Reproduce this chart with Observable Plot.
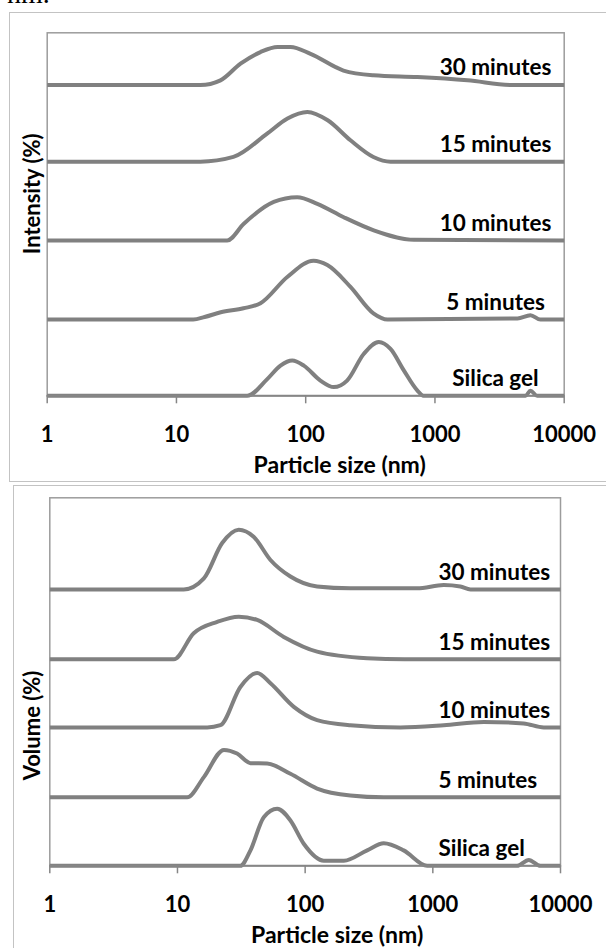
<!DOCTYPE html>
<html>
<head>
<meta charset="utf-8">
<script src="https://cdn.jsdelivr.net/npm/d3@7"></script>
<script src="https://cdn.jsdelivr.net/npm/@observablehq/plot@0.6"></script>
<style>
html, body { margin: 0; padding: 0; background: #fff; }
#page { position: relative; width: 606px; height: 948px; overflow: hidden; background: #fff; }
.panel { position: absolute; left: 0; }
.box { position: absolute; border: 1px solid #c3c3c3; box-sizing: border-box; pointer-events: none; }
#box1 { left: 9px; top: 12px; width: 620px; height: 470px; }
#box2 { left: 13px; top: 485px; width: 620px; height: 500px; }
#nm { position: absolute; left: 7px; top: -20px; font: 28px/28px "Liberation Serif", serif; color: #000; white-space: nowrap; }
</style>
</head>
<body>
<div id="page">
  <div id="nm">nm.</div>
  <div id="top" class="panel" style="top:0px"></div>
  <div id="bottom" class="panel" style="top:484px"></div>
  <div id="box1" class="box"></div>
  <div id="box2" class="box"></div>
</div>
<script>
// ---- data ----
const sizeTicks = [1, 10, 100, 1000, 10000];
const seriesNames = ["30 minutes", "15 minutes", "10 minutes", "5 minutes", "Silica gel"];

// Intensity distributions: [particle size (nm), intensity]
const intensity30 = [[1,0],[15.3,0],[21.9,1.3],[31.3,5.9],[44.7,9.1],[60.5,10.5],[76.3,10.5],[109,8.6],[196,4.0],[334,2.7],[732,2.2],[1784,1.3],[4050,0],[10000,0]];
const intensity15 = [[1,0],[15.3,0],[27.6,1.3],[50.6,7.8],[72.3,11.9],[103,13.7],[148,11.4],[222,5.9],[334,1.3],[453,0],[10000,0]];
const intensity10 = [[1,0],[24.7,0],[33.2,4.6],[56.6,10.6],[85.9,11.9],[123,10.1],[197,6.4],[336,2.8],[686,0.2],[10000,0]];
const intensity5  = [[1,0],[13.5,0],[16.5,0.7],[22,2.0],[33,3.1],[44.7,4.5],[72.4,11.8],[115,16.2],[147,15.0],[222,9.0],[334,1.7],[430,0],[4350,0.3],[5480,1.2],[6550,0],[10000,0]];
const intensitySilica = [[1,0],[35.3,0],[50.4,4.6],[63.8,8.3],[78.7,9.7],[96.7,8.3],[130,4.2],[165,2.4],[209,4.2],[282,11.6],[368,14.8],[453,12.9],[574,7.0],[729,1.5],[815,0],[5020,0],[5480,1.4],[6180,0],[10000,0]];
const intensityOffsets = [85.6, 64.5, 42.8, 21.0, 0];
const intensityLabelAt = 2940;

// Volume distributions: [particle size (nm), volume]
const volume30 = [[1,0],[11.2,0],[16.1,3.0],[22.4,12.6],[30.2,16.2],[39.5,14.3],[53.5,8.0],[76.7,3.5],[124,0.8],[226,0.3],[754,0.3],[1217,1.2],[1644,0.8],[1972,0],[10000,0]];
const volume15 = [[1,0],[9.35,0],[13.4,7.1],[20.5,10.2],[30.2,11.6],[42.1,10.7],[68,6.1],[124,2.1],[306,0.3],[600,0],[10000,0]];
const volume10 = [[1,0],[17.1,0],[21.7,0.6],[31.1,11.0],[42.1,14.8],[53.5,12.0],[81.5,5.6],[124,2.0],[226,0.6],[557,0],[1217,0.6],[2505,1.5],[5150,1.1],[7390,0],[10000,0]];
const volume5  = [[1,0],[11.9,0],[16.1,5.5],[23.1,12.9],[29.3,11.9],[37.3,9.3],[50.4,9.2],[76.7,6.4],[124,2.4],[226,0.5],[413,0],[10000,0]];
const volumeSilica = [[1,0],[31.1,0],[37.3,4.2],[47.4,13.2],[60.4,15.5],[76.7,12.3],[97.5,6.0],[140,1.4],[201,1.4],[306,4.2],[413,6.1],[591,4.2],[902,0],[4570,0],[5640,1.6],[6960,0],[10000,0]];
const volumeOffsets = [75.1, 56.1, 37.6, 18.6, 0];
const volumeLabelAt = 1107;

const xTitle = "Particle size (nm)";

// ---- drawing ----
const FONT = "Lato, 'Open Sans', sans-serif";
function panel(opts) {
  const rows = [];
  opts.series.forEach((pts, i) => pts.forEach(([s, v]) =>
    rows.push({name: seriesNames[i], size: s, value: v + opts.offsets[i]})));
  return Plot.plot({
    width: 606,
    height: opts.height,
    marginTop: opts.mt, marginBottom: opts.mb, marginLeft: opts.ml, marginRight: opts.mr,
    style: {background: "transparent", overflow: "visible"},
    x: {type: "log", domain: [1, 10000]},
    y: {domain: [0, 100], axis: null},
    marks: [
      Plot.frame({stroke: "#9c9c9c", strokeWidth: 1.5}),
      Plot.line(rows, {x: "size", y: "value", z: "name", stroke: "#808080", strokeWidth: 4,
        curve: "monotone-x", strokeLinejoin: "round", strokeLinecap: "butt"}),
      Plot.ruleY([0], {stroke: "#868686", strokeWidth: 2}),
      Plot.axisX({ticks: sizeTicks, tickSize: 8, tickPadding: 23, tickFormat: d3.format("d"),
        stroke: "#868686", strokeWidth: 1.5, fill: "#000",
        fontSize: 22, fontWeight: "bold", fontFamily: FONT, label: null}),
      Plot.text(seriesNames, {x: () => opts.labelAt, y: (d, i) => opts.offsets[i], text: d => d,
        textAnchor: opts.labelAnchor, lineAnchor: "middle", dy: -17, fill: "#000",
        fontSize: 22.5, fontWeight: "bold", fontFamily: FONT}),
      Plot.text([xTitle], {frameAnchor: "bottom", text: d => d, textAnchor: "middle", lineAnchor: "middle",
        dy: 70, dx: opts.titleDx, fill: "#000",
        fontSize: 23, fontWeight: "bold", fontFamily: FONT}),
      Plot.text([opts.yTitle], {frameAnchor: "left", text: d => d, rotate: -90,
        textAnchor: "middle", lineAnchor: "middle",
        dx: opts.yDx, dy: opts.yDy, fill: "#000",
        fontSize: 22, fontWeight: "bold", fontFamily: FONT})
    ]
  });
}

document.getElementById("top").append(panel({
  series: [intensity30, intensity15, intensity10, intensity5, intensitySilica],
  offsets: intensityOffsets, labelAt: intensityLabelAt, labelAnchor: "middle",
  yTitle: "Intensity (%)", yDx: -14.4, yDy: -20.5, titleDx: 34,
  height: 484, mt: 32.3, mb: 88.7, ml: 46.7, mr: 42.3
}));
document.getElementById("bottom").append(panel({
  series: [volume30, volume15, volume10, volume5, volumeSilica],
  offsets: volumeOffsets, labelAt: volumeLabelAt, labelAnchor: "start",
  yTitle: "Volume (%)", yDx: -16.5, yDy: 43.7, titleDx: 32,
  height: 464, mt: 13.3, mb: 82.7, ml: 49.3, mr: 46
}));
</script>
</body>
</html>
